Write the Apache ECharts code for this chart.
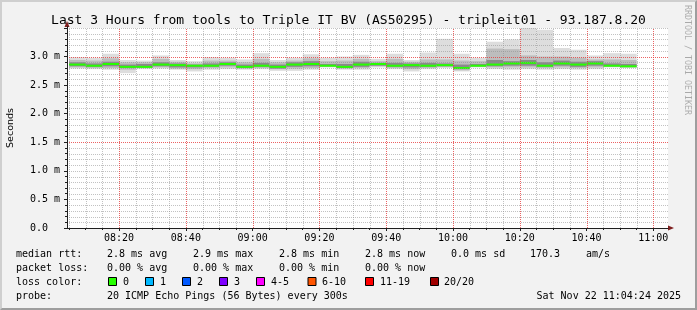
<!DOCTYPE html>
<html><head><meta charset="utf-8">
<script src="https://cdn.jsdelivr.net/npm/echarts@6/dist/echarts.min.js"></script>
<style>
html,body{margin:0;padding:0;background:#f2f2f2;}
#frame{position:absolute;left:0;top:0;width:697px;height:310px;box-sizing:border-box;border-top:2px solid #cfcfcf;border-left:2px solid #cfcfcf;border-right:2px solid #9e9e9e;border-bottom:2px solid #9e9e9e;}
#chart{position:absolute;left:0;top:0;width:697px;height:310px;}
</style></head><body>
<div id="frame"></div><div id="chart"></div>
<script>
// ---- data ----
const binStarts = ['08:05','08:10','08:15','08:20','08:25','08:30','08:35','08:40','08:45','08:50',
  '08:55','09:00','09:05','09:10','09:15','09:20','09:25','09:30','09:35','09:40',
  '09:45','09:50','09:55','10:00','10:05','10:10','10:15','10:20','10:25','10:30',
  '10:35','10:40','10:45','10:50'];
const binMinutes = 5;
// values in ms
const medianRtt = [2.86,2.84,2.87,2.82,2.82,2.86,2.85,2.84,2.84,2.87,2.82,2.84,2.82,2.86,2.87,2.84,2.82,2.86,2.87,2.84,2.85,2.84,2.85,2.80,2.84,2.86,2.88,2.89,2.84,2.88,2.86,2.88,2.84,2.83];
const smokeMin  = [2.79,2.78,2.77,2.71,2.78,2.79,2.77,2.74,2.77,2.78,2.77,2.78,2.75,2.75,2.77,2.81,2.77,2.77,2.81,2.78,2.74,2.78,2.80,2.74,2.81,2.78,2.77,2.78,2.77,2.78,2.77,2.78,2.81,2.80];
const smokeMax  = [2.99,2.98,3.05,2.94,2.93,3.02,2.94,2.92,2.99,2.98,2.95,3.06,2.94,2.98,3.04,2.98,3.00,3.03,2.96,3.05,2.94,3.07,3.31,3.05,2.98,3.26,3.30,3.51,3.47,3.15,3.12,3.02,3.06,3.05];
const midLo     = [2.81,2.80,2.80,2.77,2.80,2.81,2.79,2.78,2.80,2.81,2.79,2.80,2.78,2.79,2.80,2.82,2.79,2.80,2.83,2.80,2.78,2.80,2.82,2.76,2.82,2.81,2.81,2.81,2.80,2.81,2.80,2.81,2.82,2.81];
const midHi     = [2.94,2.93,2.97,2.90,2.90,2.96,2.91,2.88,2.93,2.93,2.90,2.96,2.90,2.93,2.97,2.92,2.93,2.96,2.92,2.96,2.91,2.95,2.95,2.93,2.92,3.14,3.13,3.02,3.00,3.00,2.98,2.95,2.95,2.94];
const darkLo    = [2.83,2.82,2.83,2.80,2.81,2.83,2.81,2.81,2.82,2.84,2.80,2.82,2.79,2.82,2.83,2.83,2.80,2.82,2.84,2.82,2.81,2.82,2.83,2.78,2.83,2.83,2.84,2.84,2.82,2.84,2.82,2.84,2.83,2.82];
const darkHi    = [2.90,2.88,2.91,2.86,2.87,2.90,2.88,2.86,2.88,2.90,2.86,2.89,2.86,2.90,2.92,2.87,2.87,2.91,2.89,2.89,2.88,2.89,2.88,2.86,2.87,2.94,2.92,2.94,2.90,2.93,2.91,2.92,2.88,2.87];

const axisStart = '08:04:24', axisSpanMinutes = 180;
const majorTickLabels = ['08:20','08:40','09:00','09:20','09:40','10:00','10:20','10:40','11:00'];
const yMax = 3.5;
const yLabelStep = 0.5, yMinorStep = 0.1;
const yMajorLines = [1.5, 3.0];

const statLabels = ['median rtt:','packet loss:','loss color:','probe:'];
const rttStats = ['2.8 ms avg','2.9 ms max','2.8 ms min','2.8 ms now','0.0 ms sd','170.3','am/s'];
const lossStats = ['0.00 % avg','0.00 % max','0.00 % min','0.00 % now'];
const lossColorNames = ['0','1','2','3','4-5','6-10','11-19','20/20'];
const lossColors = ['#26ff00','#00b8ff','#0059ff','#7e00ff','#ff00ff','#ff5500','#ff0000','#a10000'];
const probeText = '20 ICMP Echo Pings (56 Bytes) every 300s';
const dateText = 'Sat Nov 22 11:04:24 2025';
const titleText = 'Last 3 Hours from tools to Triple IT BV (AS50295) - tripleit01 - 93.187.8.20';

// ---- helpers ----
function toMin(s){const p=s.split(':').map(Number);return p[0]*60+p[1]+(p[2]||0)/60;}
const xMin = toMin(axisStart), xMax = xMin + axisSpanMinutes;
const majorTicks = majorTickLabels.map(toMin);
const minorTicks = [];
for (let m = Math.ceil(xMin/5)*5; m <= xMax; m += 5) if (majorTicks.indexOf(m) < 0) minorTicks.push(m);
const yMinorLines = [];
for (let k = 1; k*yMinorStep <= yMax + 1e-9; k++) {
  const v = +(k*yMinorStep).toFixed(2);
  if (yMajorLines.indexOf(v) < 0) yMinorLines.push(v);
}

const MONO = 'DejaVu Sans Mono';
const MINOR_COLOR = 'rgba(143,143,143,0.55)';
const MAJOR_COLOR = 'rgba(230,60,60,0.8)';

function bandSeries(lo, hi, color){
  return {
    type:'custom', xAxisIndex:0, yAxisIndex:0, z:2, silent:true,
    encode:{x:0, y:[1,2]},
    data: binStarts.map((t,i)=>[toMin(t), lo[i], hi[i]]),
    renderItem(params, api){
      const x0 = api.value(0);
      const a = api.coord([x0, api.value(2)]);
      const b = api.coord([x0 + binMinutes, api.value(1)]);
      const cs = params.coordSys;
      const shape = echarts.graphic.clipRectByRect(
        {x:a[0], y:a[1], width:b[0]-a[0], height:b[1]-a[1]},
        {x:cs.x, y:cs.y, width:cs.width, height:cs.height});
      return shape && {type:'rect', shape, style:{fill:color}};
    }
  };
}
const medianSeries = {
  type:'custom', xAxisIndex:0, yAxisIndex:0, z:3, silent:true,
  encode:{x:0, y:1},
  data: binStarts.map((t,i)=>[toMin(t), medianRtt[i]]),
  renderItem(params, api){
    const x0 = api.value(0);
    const a = api.coord([x0, api.value(1)]);
    const b = api.coord([x0 + binMinutes, api.value(1)]);
    return {type:'rect', shape:{x:a[0], y:a[1]-1, width:b[0]-a[0], height:2}, style:{fill:lossColors[0]}};
  }
};
// grid lines drawn through the axes' scales (on top of the data, like rrdtool)
function vGrid(values, color, z){
  return {type:'custom', xAxisIndex:0, yAxisIndex:0, z:z, silent:true, encode:{x:0, y:1},
    data: values.map(v=>[v, 0]),
    renderItem(params, api){
      const p0 = api.coord([api.value(0), 0]), p1 = api.coord([api.value(0), yMax]);
      const x = Math.round(p0[0]) + 0.5;
      return {type:'line', shape:{x1:x, y1:p0[1], x2:x, y2:p1[1]}, style:{stroke:color, lineWidth:1, lineDash:[1,1]}};
    }};
}
function hGrid(values, color, z){
  return {type:'custom', xAxisIndex:0, yAxisIndex:0, z:z, silent:true, encode:{x:0, y:1},
    data: values.map(v=>[xMin, v]),
    renderItem(params, api){
      const p0 = api.coord([xMin, api.value(1)]), p1 = api.coord([xMax, api.value(1)]);
      const y = Math.round(p0[1]) + 0.5;
      return {type:'line', shape:{x1:p0[0], y1:y, x2:p1[0], y2:y}, style:{stroke:color, lineWidth:1, lineDash:[1,1]}};
    }};
}

// ---- graphic texts ----
const g = [];
function txt(x,y,text,opt){g.push(Object.assign({type:'text', x, y, silent:true,
  style:Object.assign({text, font:'10px '+MONO, fill:'#000', verticalAlign:'middle', align:'left'}, (opt&&opt.style)||{})}, opt&&opt.el||{}));}
const rowY = [254,268,282,296];
statLabels.forEach((s,i)=>txt(16,rowY[i],s));
const rttX = [107,193,279,365,451,530,586];
rttStats.forEach((s,i)=>txt(rttX[i],rowY[0],s));
lossStats.forEach((s,i)=>txt(rttX[i],rowY[1],s));
const boxX = [108,145,182,219,256,307.5,365,430];
const boxLabelX = [123,160,197,234,271,322,380,444];
lossColorNames.forEach((s,i)=>{
  g.push({type:'rect', silent:true, shape:{x:boxX[i]+0.5, y:rowY[2]-4.5, width:8, height:8}, style:{fill:lossColors[i], stroke:'#000', lineWidth:1}});
  txt(boxLabelX[i], rowY[2], s);
});
txt(107,rowY[3],probeText);
txt(681,rowY[3],dateText,{style:{align:'right'}});
txt(687,5,'RRDTOOL / TOBI OETIKER',{el:{rotation:-Math.PI/2}, style:{font:'8.3px '+MONO, fill:'rgba(0,0,0,0.3)'}});
// axis arrows
g.push({type:'polygon', silent:true, shape:{points:[[64.5,27],[69.5,27],[67,21]]}, style:{fill:'#7f1f1f'}});
g.push({type:'line', silent:true, shape:{x1:67.5,y1:28,x2:67.5,y2:26}, style:{stroke:'#1f1f1f',lineWidth:1}});
g.push({type:'polygon', silent:true, shape:{points:[[668,225.5],[668,230.5],[674,228]]}, style:{fill:'#7f1f1f'}});

const chart = echarts.init(document.getElementById('chart'), null, {renderer:'canvas'});
chart.setOption({
  animation:false,
  backgroundColor:'transparent',
  title:{text:titleText, left:'center', top:9, textStyle:{fontFamily:MONO, fontSize:13, fontWeight:'normal', color:'#000'}},
  grid:{left:67, top:28, width:601, height:200, show:true, backgroundColor:'#ffffff', borderWidth:0, containLabel:false, outerBoundsMode:'none'},
  xAxis:[
    {type:'value', min:xMin, max:xMax, position:'bottom', z:10,
     axisLine:{show:true, onZero:false, lineStyle:{color:'#1f1f1f', width:1}},
     axisTick:{show:true, customValues:majorTicks, length:3, lineStyle:{color:'#1f1f1f'}},
     axisLabel:{show:true, customValues:majorTicks, margin:5, fontFamily:MONO, fontSize:10, color:'#000',
       formatter:v=>{const i=majorTicks.findIndex(t=>Math.abs(t-v)<1e-6);return i<0?'':majorTickLabels[i];}},
     splitLine:{show:false}},
    {type:'value', min:xMin, max:xMax, position:'bottom', z:9,
     axisLine:{show:false, onZero:false},
     axisTick:{show:true, customValues:minorTicks, length:2, lineStyle:{color:'#1f1f1f'}},
     axisLabel:{show:false},
     splitLine:{show:false}}
  ],
  yAxis:[
    {type:'value', min:0, max:yMax, interval:yLabelStep, position:'left', z:11,
     axisLine:{show:true, onZero:false, lineStyle:{color:'#1f1f1f', width:1}},
     axisTick:{show:true, length:3, lineStyle:{color:'#1f1f1f'}},
     axisLabel:{show:true, align:'left', margin:37, fontFamily:MONO, fontSize:10, color:'#000',
       formatter:v=>v===0?'0.0':(v>=yMax-1e-9?'':v.toFixed(1)+' m')},
     splitLine:{show:false},
     name:'Seconds', nameLocation:'middle', nameRotate:90, nameGap:51,
     nameTextStyle:{fontFamily:'DejaVu Sans', fontSize:9.5, color:'#000'}},
    {type:'value', min:0, max:yMax, interval:yMinorStep, position:'left', z:9,
     axisLine:{show:false, onZero:false}, axisTick:{show:true, length:2, lineStyle:{color:'#1f1f1f'}},
     axisLabel:{show:false}, splitLine:{show:false}}
  ],
  series:[
    bandSeries(smokeMin, smokeMax, '#dddddd'),
    bandSeries(midLo, midHi, '#bdbdbd'),
    bandSeries(darkLo, darkHi, '#8a8a8a'),
    medianSeries,
    vGrid(minorTicks, MINOR_COLOR, 4),
    hGrid(yMinorLines, MINOR_COLOR, 4),
    vGrid(majorTicks, MAJOR_COLOR, 5),
    hGrid(yMajorLines, MAJOR_COLOR, 5)
  ],
  graphic:g
});
</script></body></html>
